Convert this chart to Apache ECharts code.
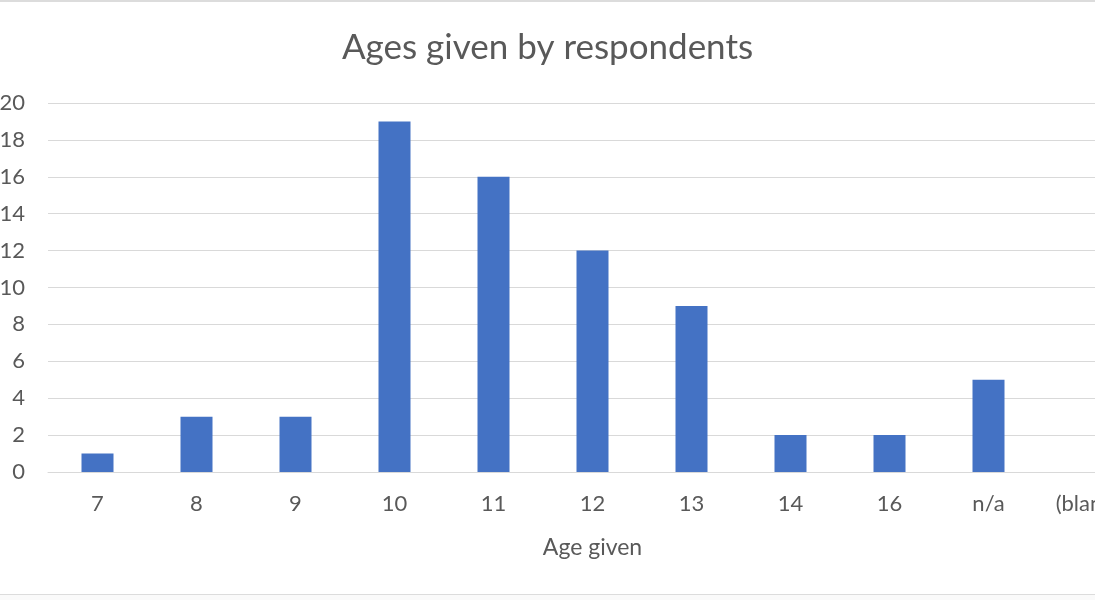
<!DOCTYPE html>
<html>
<head>
<meta charset="utf-8">
<script src="https://cdn.jsdelivr.net/npm/echarts@6/dist/echarts.min.js"></script>
<style>
html,body{margin:0;padding:0;background:#ffffff;}
#chart{width:1095px;height:600px;}
</style>
</head>
<body>
<div id="chart"></div>
<script>
const categories = ['7','8','9','10','11','12','13','14','16','n/a','(blank)'];
const counts = [1,3,3,19,16,12,9,2,2,5,null];
const yTicks = {min:0, max:20, interval:2};

const chart = echarts.init(document.getElementById('chart'));
const FONT = 'Lato';
chart.setOption({
  backgroundColor:'#ffffff',
  animation:false,
  title:{
    text:'Ages given by respondents',
    left:'center', top:25,
    textStyle:{fontFamily:FONT, fontSize:35, fontWeight:'normal', color:'#595959'}
  },
  grid:{left:48, top:103, bottom:128, right:-42, containLabel:false, outerBoundsMode:'none'},
  xAxis:{
    type:'category',
    data:categories,
    name:'Age given',
    nameLocation:'middle',
    nameGap:64,
    nameTextStyle:{fontFamily:FONT, fontSize:23, color:'#595959'},
    axisLine:{show:true, lineStyle:{color:'#d9d9d9', width:1}},
    axisTick:{show:false},
    axisLabel:{fontFamily:FONT, fontSize:22, color:'#595959', margin:21, interval:0}
  },
  yAxis:{
    type:'value',
    min:yTicks.min, max:yTicks.max, interval:yTicks.interval,
    axisLine:{show:false},
    axisTick:{show:false},
    splitLine:{lineStyle:{color:'#d9d9d9', width:1}},
    axisLabel:{fontFamily:FONT, fontSize:22, color:'#595959', margin:23}
  },
  series:[{
    type:'bar',
    data:counts,
    barWidth:32,
    itemStyle:{color:'#4472C4'}
  }],
  graphic:[
    {type:'rect', shape:{x:0,y:0,width:1095,height:2}, style:{fill:'#dcdcdc'}},
    {type:'rect', shape:{x:0,y:594,width:1095,height:1}, style:{fill:'#dcdcdc'}},
    {type:'rect', shape:{x:0,y:595,width:1095,height:5}, style:{fill:'#fafafa'}}
  ]
});
</script>
</body>
</html>
